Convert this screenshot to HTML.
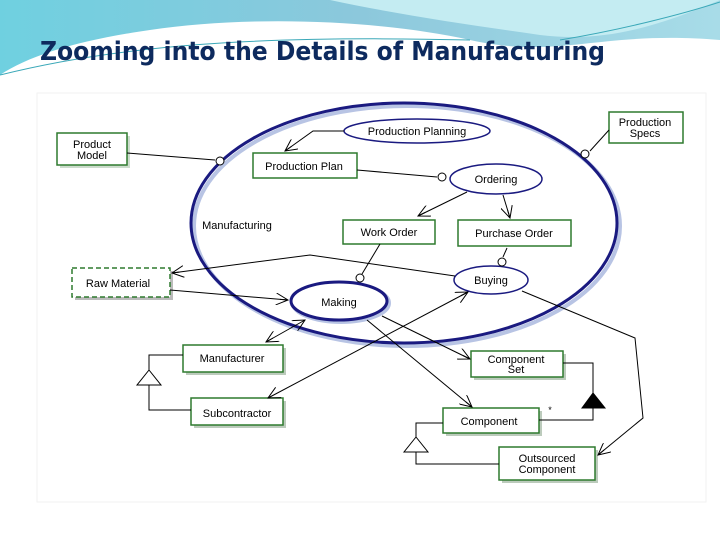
<!DOCTYPE html>
<html><head><style>
html,body{margin:0;padding:0;width:720px;height:540px;overflow:hidden;background:#fff;}
</style></head><body>
<svg width="720" height="540" viewBox="0 0 720 540" xmlns="http://www.w3.org/2000/svg" font-family="Liberation Sans, sans-serif">
<defs>
<linearGradient id="bg" x1="0" y1="0" x2="1" y2="0">
<stop offset="0" stop-color="#6fd0e0"/><stop offset="0.5" stop-color="#8cc8dc"/><stop offset="1" stop-color="#a8dce8"/>
</linearGradient>
<marker id="oa" markerWidth="14" markerHeight="12" refX="12" refY="6" orient="auto" markerUnits="userSpaceOnUse">
<path d="M0,0 L12,6 L0,12 M4,6 L12,6" fill="none" stroke="#000" stroke-width="1"/>
</marker>
<marker id="os" markerWidth="14" markerHeight="12" refX="2" refY="6" orient="auto" markerUnits="userSpaceOnUse">
<path d="M14,0 L2,6 L14,12" fill="none" stroke="#000" stroke-width="1"/>
</marker>
</defs>
<!-- header banner -->
<path d="M0,0 H720 V40 C600,30 560,60 470,40 C380,20 250,15 150,30 C80,40 30,55 0,75 Z" fill="url(#bg)"/>
<path d="M330,0 C400,15 470,25 540,35 C600,42 650,30 720,0 Z" fill="#c4ecf2"/>
<path d="M0,75 C120,45 260,35 470,40" fill="none" stroke="#3aa8b8" stroke-width="1"/>
<path d="M560,40 C620,30 680,15 720,2" fill="none" stroke="#3aa8b8" stroke-width="1"/>
<text x="40" y="60" font-size="26" font-weight="bold" fill="#0d2a5e" font-family="DejaVu Sans Condensed, Liberation Sans Narrow, Liberation Sans, sans-serif" textLength="565" lengthAdjust="spacingAndGlyphs">Zooming into the Details of Manufacturing</text>
<!-- diagram area -->
<rect x="37" y="93" width="669" height="409" fill="#fff" stroke="#f2f2f2"/>
<g stroke="#000" stroke-width="1" fill="none">
<!-- big ellipse shadow + ellipse -->
<ellipse cx="407" cy="226" rx="213" ry="120" stroke="#b8c4e4" stroke-width="4"/>
<ellipse cx="404" cy="223" rx="213" ry="120" stroke="#1a1a80" stroke-width="3"/>
</g>
<g font-size="11" fill="#000" text-anchor="middle">
<!-- boxes -->
<g stroke="#2e7a2e" stroke-width="1.5" fill="#fff">
<rect x="60" y="136" width="70" height="32" fill="#ccdccc" stroke="none"/>
<rect x="57" y="133" width="70" height="32"/>
<rect x="609" y="112" width="74" height="31"/>
<rect x="253" y="153" width="104" height="25"/>
<rect x="343" y="220" width="92" height="24"/>
<rect x="458" y="220" width="113" height="26"/>
<rect x="75" y="271" width="98" height="29" fill="#bbb" stroke="none"/>
<rect x="72" y="268" width="98" height="29" stroke-dasharray="5,3"/>
<rect x="186" y="348" width="100" height="27" fill="#bccbbc" stroke="none"/>
<rect x="183" y="345" width="100" height="27"/>
<rect x="194" y="401" width="92" height="27" fill="#bccbbc" stroke="none"/>
<rect x="191" y="398" width="92" height="27"/>
<rect x="474" y="354" width="92" height="26" fill="#bccbbc" stroke="none"/>
<rect x="471" y="351" width="92" height="26"/>
<rect x="446" y="411" width="96" height="25" fill="#bccbbc" stroke="none"/>
<rect x="443" y="408" width="96" height="25"/>
<rect x="502" y="450" width="96" height="33" fill="#bccbbc" stroke="none"/>
<rect x="499" y="447" width="96" height="33"/>
</g>
<g stroke="#1a1a80" fill="#fff">
<ellipse cx="417" cy="131" rx="73" ry="12" stroke-width="1.5"/>
<ellipse cx="496" cy="179" rx="46" ry="15" stroke-width="1.5"/>
<ellipse cx="491" cy="280" rx="37" ry="14" stroke-width="1.5"/>
<ellipse cx="341" cy="303" rx="48" ry="19" stroke="#b8c4e4" stroke-width="4"/>
<ellipse cx="339" cy="301" rx="48" ry="19" stroke-width="3"/>
</g>
<text x="92" y="148">Product</text><text x="92" y="159">Model</text>
<text x="645" y="126">Production</text><text x="645" y="137">Specs</text>
<text x="417" y="135">Production Planning</text>
<text x="304" y="170">Production Plan</text>
<text x="496" y="183">Ordering</text>
<text x="389" y="236">Work Order</text>
<text x="514" y="237">Purchase Order</text>
<text x="491" y="284">Buying</text>
<text x="339" y="306">Making</text>
<text x="118" y="287">Raw Material</text>
<text x="232" y="362">Manufacturer</text>
<text x="237" y="417">Subcontractor</text>
<text x="516" y="363">Component</text><text x="516" y="373">Set</text>
<text x="489" y="425">Component</text>
<text x="547" y="462">Outsourced</text><text x="547" y="473">Component</text>
<text x="237" y="229">Manufacturing</text>
<text x="550" y="413" font-size="9">*</text>
</g>
<g stroke="#000" stroke-width="1" fill="none">
<path d="M127,153 L215,160"/>
<path d="M609,130 L590,151"/>
<path d="M344,131 L313,131 L285,151" marker-end="url(#oa)"/>
<path d="M357,170 L437,177"/>
<path d="M467,192 L418,216" marker-end="url(#oa)"/>
<path d="M503,195 L510,218" marker-end="url(#oa)"/>
<path d="M380,244 L362,274"/>
<path d="M507,248 L503,257"/>
<path d="M455,276 L310,255 L172,273" marker-end="url(#oa)"/>
<path d="M170,290 L288,300" marker-end="url(#oa)"/>
<path d="M305,320 L266,342" marker-start="url(#os)" marker-end="url(#oa)"/>
<path d="M382,316 L470,359" marker-end="url(#oa)"/>
<path d="M367,320 L472,407" marker-end="url(#oa)"/>
<path d="M268,398 L468,292" marker-start="url(#os)" marker-end="url(#oa)"/>
<path d="M522,291 L635,338 L643,418 L598,455" marker-end="url(#oa)"/>
<path d="M183,355 H149 V370 M149,385 V410 H191"/>
<path d="M443,423 H416 V437 M416,452 V464 H499"/>
<path d="M563,363 H593 V393 M593,408 V420 H539"/>
<path d="M149,370 L137,385 H161 Z" fill="#fff"/>
<path d="M416,437 L404,452 H428 Z" fill="#fff"/>
<path d="M593,393 L582,408 H605 Z" fill="#000"/>
<circle cx="220" cy="161" r="4" fill="#fff"/>
<circle cx="585" cy="154" r="4" fill="#fff"/>
<circle cx="442" cy="177" r="4" fill="#fff"/>
<circle cx="360" cy="278" r="4" fill="#fff"/>
<circle cx="502" cy="262" r="4" fill="#fff"/>
</g>
</svg>
</body></html>
